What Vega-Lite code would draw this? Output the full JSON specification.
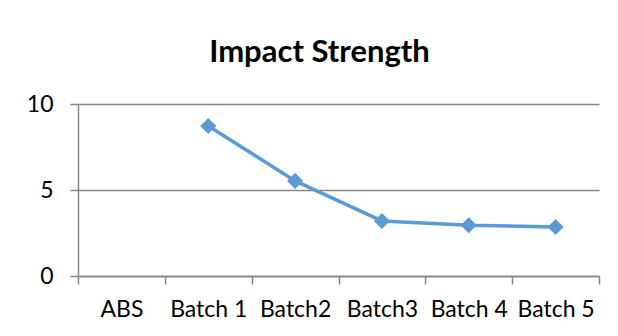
{
  "$schema": "https://vega.github.io/schema/vega-lite/v6.json",
  "width": 521,
  "height": 172,
  "autosize": "none",
  "padding": {"left": 78, "top": 104, "right": 19, "bottom": 60},
  "background": "white",
  "title": {
    "text": "Impact Strength",
    "font": "Lato",
    "fontSize": 31,
    "fontWeight": "bold",
    "color": "black",
    "anchor": "middle",
    "dx": -19,
    "offset": 24
  },
  "data": {
    "values": [
      {"sample": "ABS", "strength": null},
      {"sample": "Batch 1", "strength": 8.72},
      {"sample": "Batch2", "strength": 5.53},
      {"sample": "Batch3", "strength": 3.2},
      {"sample": "Batch 4", "strength": 2.95},
      {"sample": "Batch 5", "strength": 2.85}
    ]
  },
  "mark": {
    "type": "line",
    "color": "#5b9bd5",
    "strokeWidth": 3.5,
    "point": {"shape": "diamond", "size": 260, "filled": true, "color": "#5b9bd5", "opacity": 1}
  },
  "encoding": {
    "x": {
      "field": "sample",
      "type": "nominal",
      "sort": null,
      "scale": {
        "type": "band",
        "domain": ["ABS", "Batch 1", "Batch2", "Batch3", "Batch 4", "Batch 5"],
        "paddingInner": 0,
        "paddingOuter": 0
      },
      "axis": {
        "title": null,
        "labelAngle": 0,
        "tickBand": "extent",
        "domainColor": "#868686",
        "domainWidth": 1.5,
        "tickColor": "#868686",
        "tickWidth": 1.5,
        "tickSize": 8,
        "labelFont": "Lato",
        "labelFontSize": 23,
        "labelColor": "black",
        "labelPadding": 14
      }
    },
    "y": {
      "field": "strength",
      "type": "quantitative",
      "scale": {"domain": [0, 10], "nice": false},
      "axis": {
        "values": [0, 5, 10],
        "title": null,
        "grid": true,
        "gridColor": "#868686",
        "gridWidth": 1.5,
        "domainColor": "#868686",
        "domainWidth": 1.5,
        "tickColor": "#868686",
        "tickSize": 8,
        "tickWidth": 1.5,
        "labelFont": "Lato",
        "labelFontSize": 23,
        "labelPadding": 17,
        "labelColor": "black"
      }
    }
  },
  "config": {"view": {"stroke": null}}
}
